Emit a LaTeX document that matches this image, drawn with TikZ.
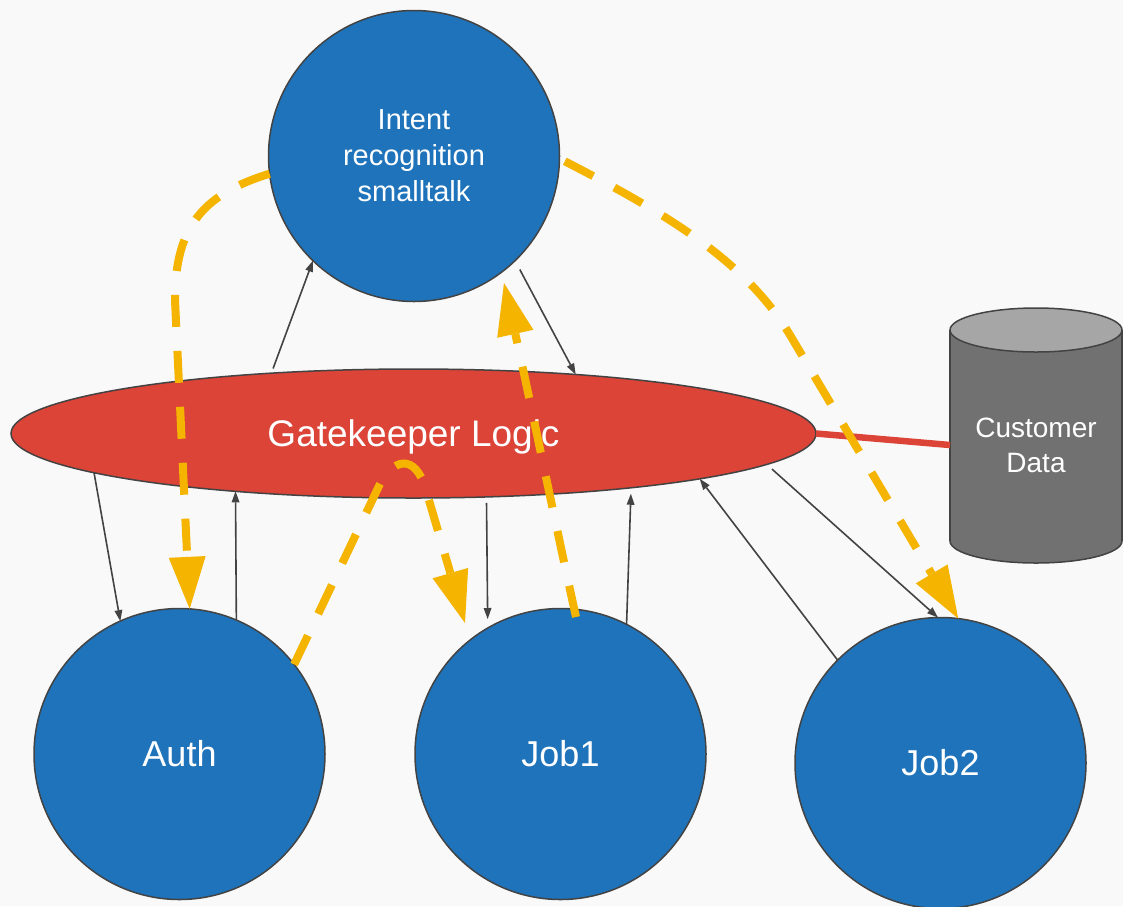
\documentclass[tikz,border=0pt]{standalone}
\usepackage{fontspec}
\setmainfont{Liberation Sans}
\usetikzlibrary{arrows.meta,shapes.geometric}
\definecolor{bg}{HTML}{F9F9F9}
\definecolor{nodeblue}{HTML}{1F73BA}
\definecolor{gkred}{HTML}{DB4437}
\definecolor{flowyellow}{HTML}{F4B400}
\definecolor{edgegray}{HTML}{434343}
\definecolor{cylbody}{HTML}{717171}
\definecolor{cyltop}{HTML}{A6A6A6}
\begin{document}
\begin{tikzpicture}[x=1pt,y=-1pt,
  bubble/.style={circle, draw=edgegray, line width=1.5pt, fill=nodeblue, text=white,
    minimum size=291pt, inner sep=0pt, outer sep=0pt},
  thinarrow/.style={draw=edgegray, line width=1.6pt,
    -{Triangle[length=11pt,width=8pt,line width=0pt]}},
  flowline/.style={draw=flowyellow, line width=8pt, dash pattern=on 32pt off 24pt,
    -{Triangle[length=52pt,width=37pt,line width=0pt]}},
  cylline/.style={draw=edgegray, line width=1.5pt}
  ]
\useasboundingbox (0,0) rectangle (1123,906);
\fill[bg] (0,0) rectangle (1123,906);

% nodes
\node[bubble, align=center, font=\fontsize{29}{36}\selectfont] (intent) at (414,156)
  {Intent\\recognition\\smalltalk};
\node[ellipse, draw=edgegray, line width=1.5pt, fill=gkred, minimum width=805pt,
  minimum height=129pt, inner sep=0pt, outer sep=0pt, text=white,
  font=\fontsize{37}{44}\selectfont, text depth=0pt] (gk) at (413.5,433.5) {Gatekeeper Logic};
\node[bubble, font=\fontsize{36}{43}\selectfont] (auth) at (179.5,754) {Auth};
\node[bubble, font=\fontsize{36}{43}\selectfont] (job1) at (560.5,754) {Job1};
\node[bubble, font=\fontsize{36}{43}\selectfont] (job2) at (940.5,763) {Job2};

% cylinder
\fill[cylbody] (950,330) rectangle (1122,541);
\fill[cylbody] (1036,541) ellipse [x radius=86, y radius=22];
\begin{scope}
  \clip (940,541) rectangle (1130,575);
  \draw[cylline] (1036,541) ellipse [x radius=86, y radius=22];
\end{scope}
\draw[cylline] (950,330) -- (950,541);
\draw[cylline] (1122,330) -- (1122,541);
\draw[cylline, fill=cyltop] (1036,330) ellipse [x radius=86, y radius=22];
\node[minimum width=172pt, inner sep=0pt, outer sep=0pt, text=white, align=center,
  font=\fontsize{28}{35}\selectfont] (cdata) at (1036,445) {Customer\\Data};

% red link
\draw[gkred, line width=6.5pt] (gk.east) -- (cdata.west);

% thin arrows
\draw[thinarrow, shorten <=5pt] (gk.157.2) -- (intent.-134);
\draw[thinarrow, shorten <=10pt] (intent.-46) -- (gk.20);
\draw[thinarrow] (gk.187) -- (auth.114);
\draw[thinarrow] (auth.67) -- (gk.198);
\draw[thinarrow, shorten <=6pt, shorten >=9pt] (gk.-41.2) -- (job1.120);
\draw[thinarrow, shorten >=6pt] (job1.63.25) -- (gk.-14.55);
\draw[thinarrow] (job2.135) -- (gk.-9);
\draw[thinarrow, shorten <=7pt] (gk.-5) -- (job2.91);

% yellow flows
\coordinate (btip) at (465,623);
\coordinate (cstart) at (576,617);
\coordinate (ctip) at (504,283);
\draw[flowline] (intent.187) .. controls (200,195) and (175,230) .. (175,300) -- (auth.86);
\draw[flowline] (auth.38) -- (378,488) .. controls (392,458) and (415,452) .. (426,490) -- (btip);
\draw[flowline] (cstart) .. controls (560,545) and (530,400) .. (ctip);
\draw[flowline, shorten <=6pt] (intent.-1.5) .. controls (665,213) and (745,260) .. (790,335) -- (job2.83);
\end{tikzpicture}
\end{document}
